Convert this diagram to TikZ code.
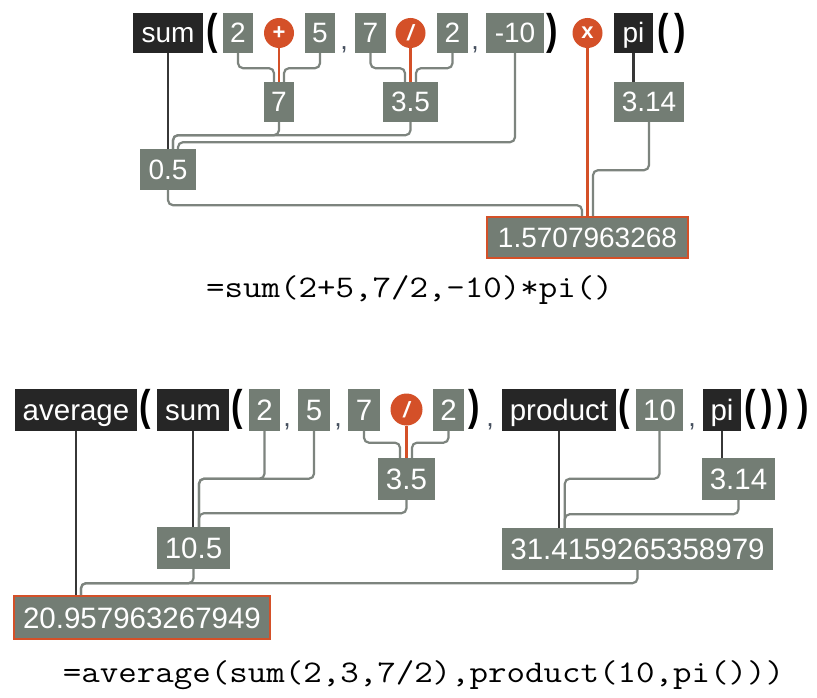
\documentclass[tikz,border=0pt]{standalone}
\usepackage{fontspec}
\usepackage{graphicx}
\setmainfont{Liberation Sans}
\usetikzlibrary{positioning}
\definecolor{valgray}{RGB}{115,125,116}
\definecolor{funblack}{RGB}{38,38,38}
\definecolor{opor}{RGB}{212,80,40}
\definecolor{wiregray}{RGB}{125,132,126}
\definecolor{funwire}{RGB}{55,55,55}
\definecolor{sepgray}{RGB}{70,80,95}
\newcommand{\codeline}[1]{\scalebox{1.14}[1]{#1}}
\newcommand{\pr}[1]{\scalebox{0.8}[1]{#1}}
\tikzset{
	val/.style={fill=valgray,text=white,inner sep=0pt,minimum height=40pt,text height=20pt,text depth=0pt,font=\fontsize{28}{28}\selectfont},
	valb/.style={val,minimum height=42pt,text height=21pt,font=\fontsize{29.5}{29.5}\selectfont},
	fun/.style={val,fill=funblack},
	funb/.style={valb,fill=funblack},
	oper/.style={circle,fill=opor,text=white,inner sep=0pt,minimum size=30pt,font=\fontsize{22}{22}\selectfont\bfseries},
	res/.style={draw=opor,line width=2pt},
	paren/.style={inner sep=0pt,font=\fontsize{43}{43}\selectfont\bfseries},
	sep/.style={inner sep=0pt,anchor=base,text=sepgray,font=\fontsize{27}{27}\selectfont},
	wire/.style={color=wiregray,line width=2.2pt,rounded corners=5pt},
	fwire/.style={color=funwire,line width=2.5pt},
	owire/.style={color=opor,line width=2.5pt},
	formula/.style={inner sep=0pt,font=\ttfamily\fontsize{31.5}{31.5}\selectfont}
}
\begin{document}
\begin{tikzpicture}[x=1pt,y=-1pt]
	\useasboundingbox[fill=white] (0,0) rectangle (817,698);
	%%%sum(2+5,7/2,-10)*pi()
	\node[fun,minimum width=70pt] (sum) at (168,33) {sum};
	\node[paren] (p1) at (212,33) {\pr{(}};
	\node[val,minimum width=30pt] (n2a) at (238,33) {2};
	\node[oper] (plus) at (279,33) {+};
	\node[val,minimum width=30pt] (n5) at (320,33) {5};
	\node[sep] (c1) at (344,50) {,};
	\node[val,minimum width=31pt] (n7) at (370.5,33) {7};
	\node[oper] (div) at (410.5,33) {\itshape /};
	\node[val,minimum width=31pt] (n2b) at (452.5,33) {2};
	\node[sep] (c2) at (475,50) {,};
	\node[val,minimum width=58pt] (nm10) at (515,33) {-10};
	\node[paren] (p2) at (552,33) {\pr{)}};
	\node[oper] (times) at (587.5,33) {x};
	\node[fun,minimum width=39pt] (pi) at (633.5,33) {pi};
	\node[paren] (p3) at (663,33) {\pr{(}};
	\node[paren] (p4) at (680,33) {\pr{)}};

	\node[val,minimum width=30pt] (r7) at (279,102) {7};
	\node[val,minimum width=55pt] (r35) at (410.5,102) {3.5};
	\node[val,minimum width=70pt] (r314) at (649,102) {3.14};
	\node[val,minimum width=56pt,minimum height=41pt] (r05) at (168,169.5) {0.5};
	\node[val,res,minimum width=201pt,minimum height=41pt] (res1) at (587.5,237.5) {1.5707963268};

	\draw[wire] (n2a.south) -- ++(0,15) -| ([xshift=-5pt]r7.north);
	\draw[wire] (n5.south) -- ++(0,15) -| ([xshift=5pt]r7.north);
	\draw[wire] (n7.south) -- ++(0,15) -| ([xshift=-5.5pt]r35.north);
	\draw[wire] (n2b.south) -- ++(0,15) -| ([xshift=5.5pt]r35.north);
	\draw[owire] (plus.south) -- (r7.north);
	\draw[owire] (div.south) -- (r35.north);
	\draw[fwire] (sum.south) -- (r05.north);
	\draw[wire] (r7.south) -- ++(0,13) -| ([xshift=5pt]r05.north);
	\draw[wire] (r35.south) -- ++(0,13) -| ([xshift=5pt]r05.north);
	\draw[wire] (nm10.south) -- ++(0,89) -| ([xshift=10pt]r05.north);
	\draw[fwire] (pi.south) -- (pi.south |- r314.north);
	\draw[wire] (r314.south) -- ++(0,48) -| ([xshift=5.5pt]res1.north);
	\draw[wire] (r05.south) -- ++(0,15) -| ([xshift=-5.5pt]res1.north);
	\draw[owire] (times.south) -- (res1.north);

	\node[formula] (f1) at (409.5,290) {\codeline{=sum(2+5,7/2,-10)*pi()}};

	%%%average(sum(2,5,7/2),product(10,pi()))
	\node[funb,minimum width=122pt] (avg) at (76,409.5) {average};
	\node[paren] (q1) at (145,409.5) {\pr{(}};
	\node[funb,minimum width=72pt] (sumb) at (193,409.5) {sum};
	\node[paren] (q2) at (237.5,409.5) {\pr{(}};
	\node[valb,minimum width=31pt] (b2) at (264.5,409.5) {2};
	\node[sep] (d1) at (287,426) {,};
	\node[valb,minimum width=32pt] (b5) at (314,409.5) {5};
	\node[sep] (d2) at (338,426) {,};
	\node[valb,minimum width=32pt] (b7) at (364,409.5) {7};
	\node[oper,minimum size=32pt] (divb) at (406.5,409.5) {\itshape /};
	\node[valb,minimum width=31pt] (b2b) at (448.5,409.5) {2};
	\node[paren] (q3) at (474,409.5) {\pr{)}};
	\node[sep] (d3) at (490,426) {,};
	\node[funb,minimum width=114pt] (prod) at (559,409.5) {product};
	\node[paren] (q4) at (624,409.5) {\pr{(}};
	\node[valb,minimum width=47pt] (b10) at (659.5,409.5) {10};
	\node[sep] (d4) at (692,426) {,};
	\node[funb,minimum width=38pt] (pib) at (722,409.5) {pi};
	\node[paren] (q5) at (750,409.5) {\pr{(}};
	\node[paren] (q6) at (767,409.5) {\pr{)}};
	\node[paren] (q7) at (783,409.5) {\pr{)}};
	\node[paren] (q8) at (803,409.5) {\pr{)}};

	\node[valb,minimum width=57pt] (b35) at (406.5,479) {3.5};
	\node[valb,minimum width=73pt] (b314) at (738.5,479) {3.14};
	\node[valb,minimum width=73pt] (b105) at (193.5,548) {10.5};
	\node[valb,minimum width=271pt] (b314pi) at (637.5,549) {31.4159265358979};
	\node[valb,res,minimum width=256pt,minimum height=43pt] (res2) at (142,617.5) {20.957963267949};

	\draw[fwire] (avg.south) -- (avg.south |- res2.north);
	\draw[fwire] (sumb.south) -- (sumb.south |- b105.north);
	\draw[wire] (b2.south) -- ++(0,48) -| ([xshift=5.5pt]b105.north);
	\draw[wire] (b5.south) -- ++(0,48) -| ([xshift=5.5pt]b105.north);
	\draw[wire] (b7.south) -- ++(0,12) -| ([xshift=-6.5pt]b35.north);
	\draw[wire] (b2b.south) -- ++(0,12) -| ([xshift=5.5pt]b35.north);
	\draw[owire] (divb.south) -- (b35.north);
	\draw[wire] (b35.south) -- ++(0,13) -| ([xshift=5.5pt]b105.north);
	\draw[fwire] (prod.south) -- (prod.south |- b314pi.north);
	\draw[wire] (b10.south) -- ++(0,48) -| ([xshift=63pt]b314pi.north west);
	\draw[fwire] (pib.south) -- (pib.south |- b314.north);
	\draw[wire] (b314.south) -- ++(0,14) -| ([xshift=63pt]b314pi.north west);
	\draw[wire] (b105.south) -- ++(0,14) -| ([xshift=68pt]res2.north west);
	\draw[wire] (b314pi.south) -- ++(0,13) -| ([xshift=68pt]res2.north west);

	\node[formula] (f2) at (423.5,675) {\codeline{=average(sum(2,3,7/2),product(10,pi()))}};
\end{tikzpicture}
\end{document}
